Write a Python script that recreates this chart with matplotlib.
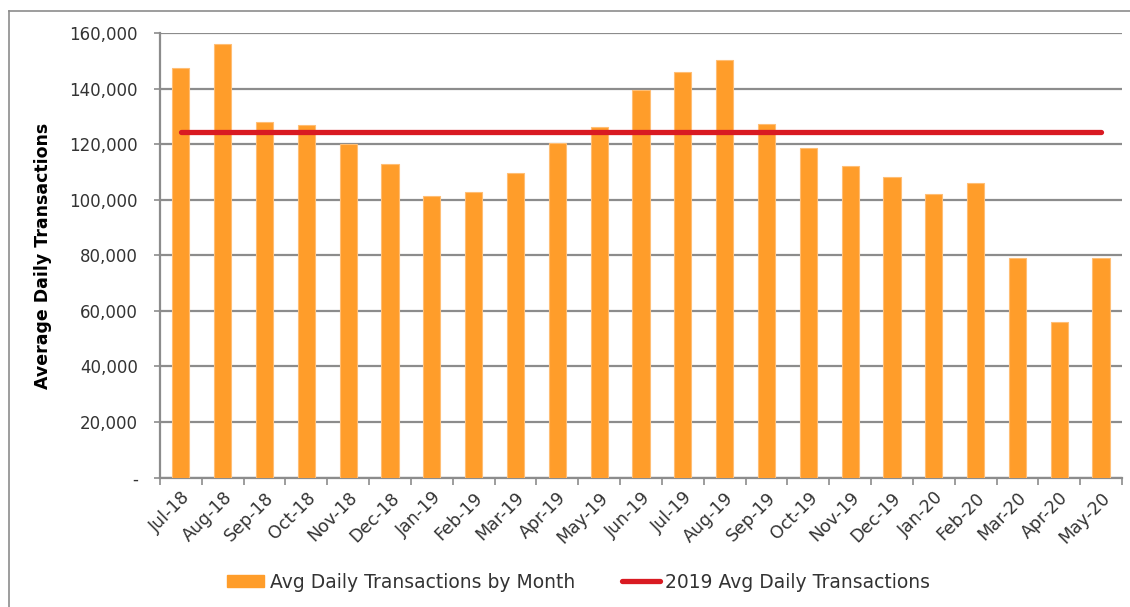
import matplotlib
matplotlib.use("Agg")
import matplotlib.pyplot as plt
from matplotlib.lines import Line2D
from matplotlib.ticker import FuncFormatter
import numpy as np

months = ['Jul-18', 'Aug-18', 'Sep-18', 'Oct-18', 'Nov-18', 'Dec-18',
          'Jan-19', 'Feb-19', 'Mar-19', 'Apr-19', 'May-19', 'Jun-19',
          'Jul-19', 'Aug-19', 'Sep-19', 'Oct-19', 'Nov-19', 'Dec-19',
          'Jan-20', 'Feb-20', 'Mar-20', 'Apr-20', 'May-20']
avg_daily = [147600, 156000, 128200, 126800, 120200, 112800,
             101400, 102700, 109700, 120400, 126100, 139600,
             146200, 150300, 127400, 118700, 112300, 108400,
             102300, 106000, 79200, 56200, 79200]
avg_2019 = 124600
yticks = [0, 20000, 40000, 60000, 80000, 100000, 120000, 140000, 160000]

ORANGE = '#FF9D2A'
RED = '#D91A22'
GRID = '#8C8C8C'
TEXT = '#333333'

plt.rcParams['font.family'] = ['DejaVu Sans']

fig = plt.figure(figsize=(11.3, 6.07), dpi=100)
ax = fig.add_axes([0.1416, 0.2133, 0.8513, 0.7318])

x = np.arange(len(months))
ax.bar(x, avg_daily, width=0.41, color=ORANGE, edgecolor='#FFBE74',
       linewidth=0.8, zorder=3)
ax.plot([x[0], x[-1]], [avg_2019, avg_2019], color=RED, lw=3.8,
        solid_capstyle='round', zorder=4)

ax.set_xlim(-0.5, len(months) - 0.5)
ax.set_ylim(0, 160000)
ax.set_yticks(yticks)
ax.yaxis.set_major_formatter(FuncFormatter(lambda v, p: '-' if v == 0 else f'{int(v):,}'))
ax.grid(axis='y', color=GRID, lw=1.6, zorder=0)
ax.tick_params(axis='y', length=4, width=1.2, color=GRID, pad=12,
               labelsize=12, labelcolor=TEXT)

# tick marks between categories, labels at the centres
ax.set_xticks(np.arange(-0.5, len(months), 1.0))
ax.set_xticklabels([])
ax.tick_params(axis='x', which='major', length=5, width=1.2, color=GRID)
ax.set_xticks(x, minor=True)
ax.set_xticklabels(months, minor=True, rotation=45, ha='right', va='top',
                   rotation_mode='anchor', fontsize=12.5, color=TEXT)
ax.tick_params(axis='x', which='minor', length=0, pad=8)

for s in ['top', 'right']:
    ax.spines[s].set_visible(False)
for s in ['left', 'bottom']:
    ax.spines[s].set_color(GRID)
    ax.spines[s].set_linewidth(1.6)

ax.set_ylabel('Average Daily Transactions', fontsize=12.5, fontweight='bold',
              color='black', labelpad=12)

handles = [plt.Rectangle((0, 0), 1, 1, color=ORANGE),
           Line2D([0], [0], color=RED, lw=3.8, solid_capstyle='round')]
fig.legend(handles, ['Avg Daily Transactions by Month', '2019 Avg Daily Transactions'],
           loc='center', bbox_to_anchor=(0.512, 0.041), ncol=2, frameon=False,
           fontsize=13.5, handlelength=2.0, handleheight=0.6, handletextpad=0.3,
           columnspacing=2.5, labelcolor=TEXT)

# chart border (left and top visible)
fig.add_artist(Line2D([0.008, 0.008], [0, 0.982], color='#8C8C8C', lw=1.2,
                      transform=fig.transFigure))
fig.add_artist(Line2D([0.008, 1.0], [0.982, 0.982], color='#8C8C8C', lw=1.2,
                      transform=fig.transFigure))

fig.savefig('out.png', dpi=100)
